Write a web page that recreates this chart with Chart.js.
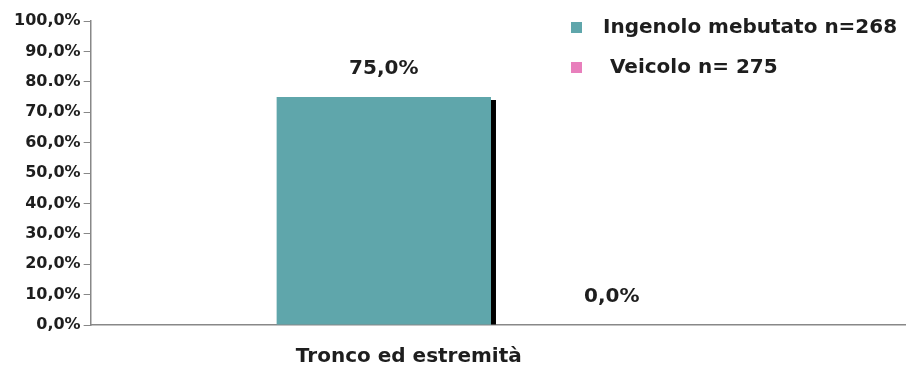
<!DOCTYPE html>
<html>
<head>
<meta charset="utf-8">
<script src="https://cdn.jsdelivr.net/npm/chart.js@4.4.0/dist/chart.umd.min.js"></script>
<style>
  html, body { margin: 0; padding: 0; background: #fff; }
  #wrap { width: 911px; height: 367px; }
</style>
</head>
<body>
<div id="wrap"><canvas id="myChart"></canvas></div>
<script>
const categories = ['Tronco ed estremità'];
const seriesNames = ['Ingenolo mebutato n=268', ' Veicolo n= 275'];
const ingenoloValues = [75];
const veicoloValues = [0];
const valueLabels = [['75,0%'], ['0,0%']];
const yTickLabels = ['0,0%', '10,0%', '20,0%', '30,0%', '40,0%', '50,0%', '60,0%', '70,0%', '80.0%', '90,0%', '100,0%'];

const TEAL = '#5fa6ab';
const PINK = '#e87fbc';
const TEXT = '#1e1e1e';
const FONT = 'DejaVu Sans';

// black shadow on the right side of each bar + value labels above bars
const barExtras = {
  id: 'barExtras',
  afterDatasetsDraw(chart) {
    const ctx = chart.ctx;
    chart.data.datasets.forEach((ds, i) => {
      const meta = chart.getDatasetMeta(i);
      meta.data.forEach((bar, j) => {
        const h = bar.base - bar.y;
        ctx.save();
        if (h > 4) {
          ctx.fillStyle = '#000';
          ctx.fillRect(bar.x + bar.width / 2, bar.y + 3, 5, h - 3);
        }
        ctx.fillStyle = TEXT;
        ctx.font = 'bold 20px ' + FONT;
        ctx.textAlign = 'center';
        ctx.textBaseline = 'middle';
        ctx.fillText(valueLabels[i][j], bar.x, bar.y - 28);
        ctx.restore();
      });
    });
  }
};

// vertical legend in the top right corner
const sideLegend = {
  id: 'sideLegend',
  afterDraw(chart) {
    const ctx = chart.ctx;
    ctx.save();
    chart.data.datasets.forEach((ds, i) => {
      const y = 28 + i * 40;
      ctx.fillStyle = ds.backgroundColor;
      ctx.fillRect(571, y - 6, 11, 11);
      ctx.fillStyle = TEXT;
      ctx.font = 'bold 20px ' + FONT;
      ctx.textAlign = 'left';
      ctx.textBaseline = 'middle';
      ctx.fillText(ds.label, 603, y);
    });
    ctx.restore();
  }
};

new Chart(document.getElementById('myChart'), {
  type: 'bar',
  data: {
    labels: categories,
    datasets: [
      { label: seriesNames[0], data: ingenoloValues, backgroundColor: TEAL },
      { label: seriesNames[1], data: veicoloValues, backgroundColor: PINK }
    ]
  },
  options: {
    responsive: true,
    maintainAspectRatio: false,
    animation: false,
    categoryPercentage: 0.56,
    barPercentage: 0.94,
    layout: { padding: { top: 21, right: 6, left: 11, bottom: -22 } },
    plugins: {
      legend: { display: false },
      tooltip: { enabled: false }
    },
    scales: {
      x: {
        grid: { display: false, drawTicks: false },
        border: { color: '#888', width: 1.5 },
        ticks: {
          color: TEXT,
          padding: 20,
          labelOffset: -89,
          font: { family: FONT, size: 20, weight: 'bold' }
        }
      },
      y: {
        min: 0,
        max: 100,
        grid: { drawOnChartArea: false, tickLength: 7, color: '#888' },
        border: { color: '#888', width: 1.5 },
        ticks: {
          stepSize: 10,
          color: TEXT,
          padding: 3,
          font: { family: FONT, size: 16, weight: 'bold' },
          callback: (v, i) => yTickLabels[i]
        }
      }
    }
  },
  plugins: [barExtras, sideLegend]
});
</script>
</body>
</html>
